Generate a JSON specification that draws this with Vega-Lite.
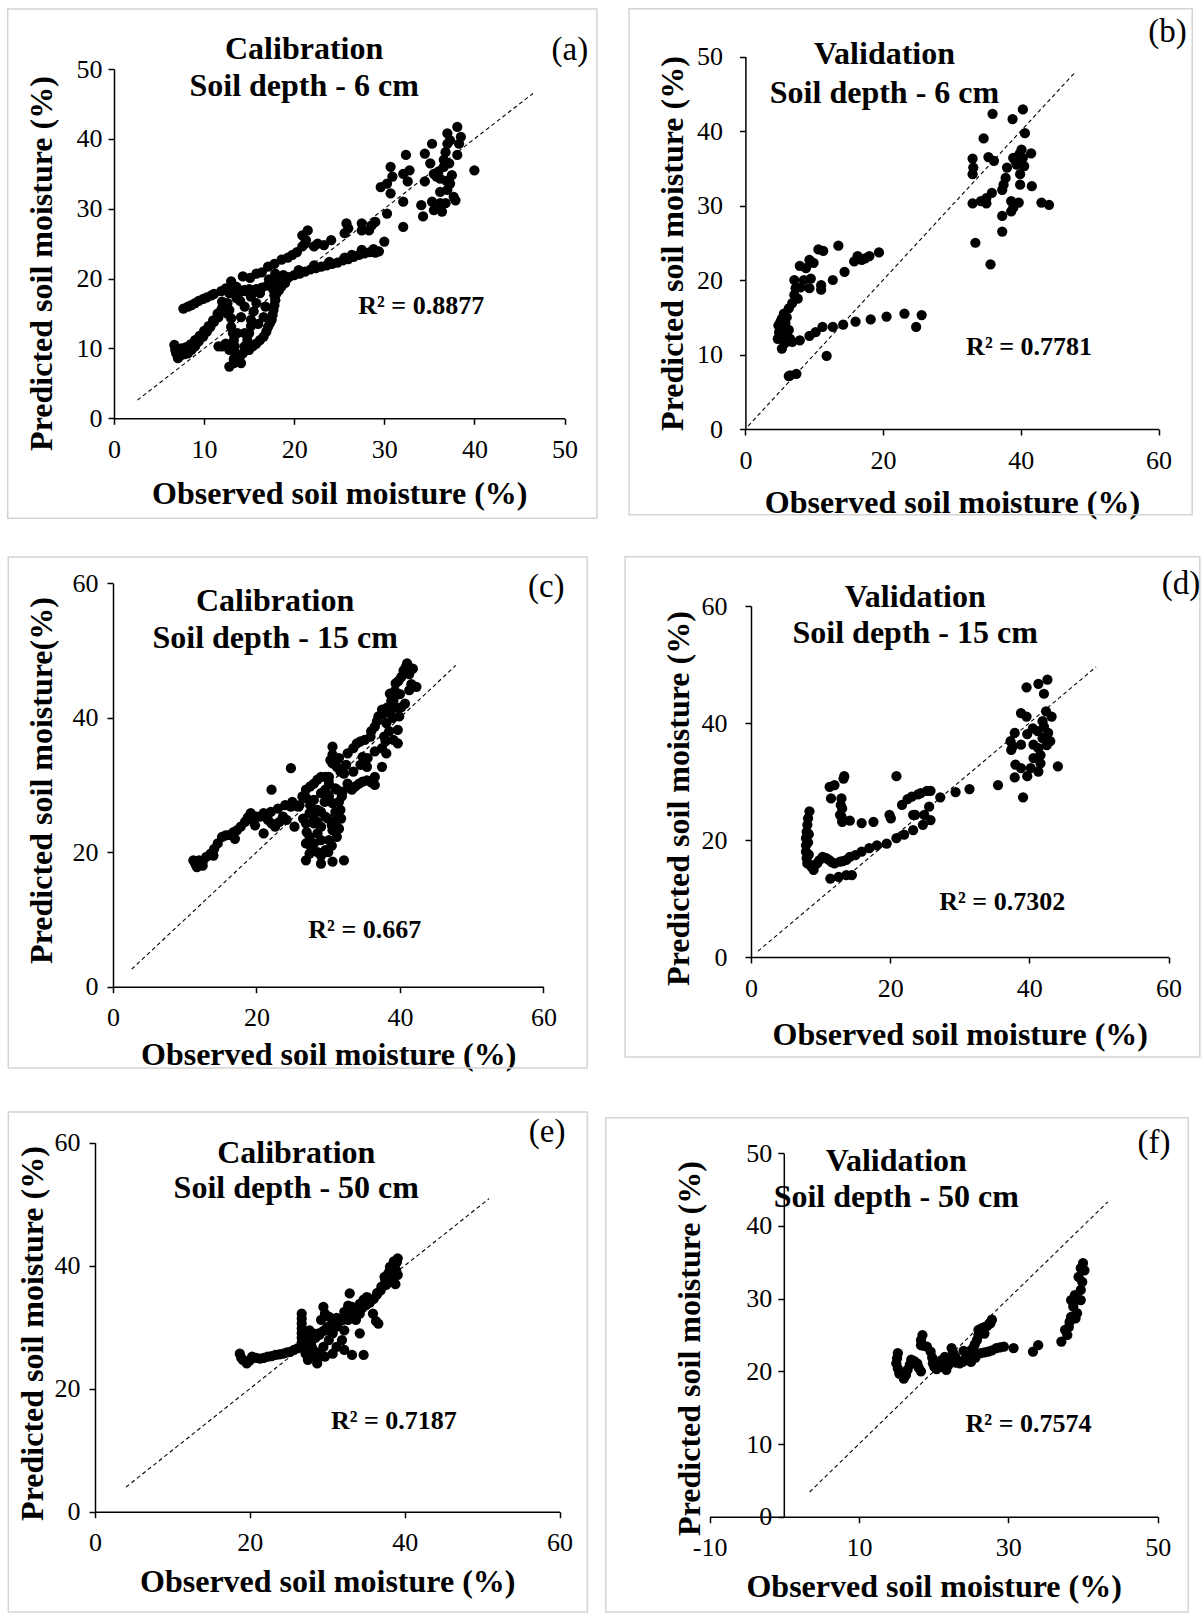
{
"$schema": "https://vega.github.io/schema/vega-lite/v6.json",
"width": 1203, "height": 1614, "autosize": {"type": "none"}, "padding": 0, "background": "white",
"config": {"view": {"stroke": null},
 "axis": {"labelFont": "Liberation Serif", "labelFontSize": 26, "labelColor": "black", "titleFont": "Liberation Serif", "titleFontSize": 32, "titleFontWeight": "bold", "titleColor": "black", "domainColor": "black", "domainWidth": 1.5, "tickColor": "black", "tickWidth": 1.5, "tickSize": 6, "grid": false, "labelPadding": 12, "labelFlush": false, "labelOverlap": false}},
"datasets": {
"a": [{"obs":7.7,"pred":15.7},{"obs":8.2,"pred":16.0},{"obs":8.6,"pred":16.2},{"obs":9.0,"pred":16.5},{"obs":9.4,"pred":16.8},{"obs":9.9,"pred":17.1},{"obs":10.3,"pred":17.3},{"obs":10.8,"pred":17.6},{"obs":11.1,"pred":17.8},{"obs":11.9,"pred":18.2},{"obs":12.4,"pred":18.6},{"obs":13.0,"pred":19.6},{"obs":13.6,"pred":18.8},{"obs":14.3,"pred":20.3},{"obs":15.1,"pred":20.1},{"obs":15.8,"pred":20.7},{"obs":16.4,"pred":20.9},{"obs":17.1,"pred":21.7},{"obs":17.8,"pred":22.1},{"obs":18.6,"pred":22.7},{"obs":19.3,"pred":23.0},{"obs":19.8,"pred":23.4},{"obs":20.3,"pred":23.8},{"obs":20.9,"pred":24.6},{"obs":21.3,"pred":25.5},{"obs":21.5,"pred":26.9},{"obs":20.9,"pred":26.2},{"obs":21.2,"pred":25.0},{"obs":22.2,"pred":24.6},{"obs":22.6,"pred":25.0},{"obs":23.3,"pred":24.8},{"obs":24.1,"pred":25.5},{"obs":25.6,"pred":26.5},{"obs":25.8,"pred":27.9},{"obs":26.0,"pred":27.2},{"obs":27.5,"pred":27.9},{"obs":27.5,"pred":26.9},{"obs":28.3,"pred":26.9},{"obs":28.6,"pred":27.6},{"obs":29.0,"pred":28.1},{"obs":30.0,"pred":25.3},{"obs":30.3,"pred":29.3},{"obs":29.6,"pred":33.1},{"obs":30.3,"pred":33.6},{"obs":30.7,"pred":36.0},{"obs":30.9,"pred":34.6},{"obs":30.7,"pred":32.2},{"obs":32.1,"pred":31.0},{"obs":32.1,"pred":35.0},{"obs":32.4,"pred":37.7},{"obs":32.6,"pred":33.9},{"obs":32.8,"pred":35.5},{"obs":32.1,"pred":27.4},{"obs":34.1,"pred":30.5},{"obs":34.3,"pred":28.9},{"obs":34.5,"pred":37.9},{"obs":34.5,"pred":33.9},{"obs":35.1,"pred":36.5},{"obs":35.3,"pred":39.3},{"obs":35.5,"pred":35.0},{"obs":35.3,"pred":31.0},{"obs":35.5,"pred":29.8},{"obs":36.2,"pred":30.8},{"obs":36.2,"pred":32.4},{"obs":36.4,"pred":29.6},{"obs":36.8,"pred":30.8},{"obs":36.2,"pred":34.3},{"obs":36.6,"pred":37.0},{"obs":36.8,"pred":38.1},{"obs":37.0,"pred":39.3},{"obs":37.0,"pred":40.8},{"obs":37.3,"pred":33.6},{"obs":37.5,"pred":34.8},{"obs":37.7,"pred":31.7},{"obs":37.9,"pred":31.2},{"obs":38.1,"pred":37.7},{"obs":38.1,"pred":41.7},{"obs":38.3,"pred":39.3},{"obs":38.5,"pred":40.3},{"obs":36.6,"pred":36.0},{"obs":40.0,"pred":35.5},{"obs":37.3,"pred":39.8},{"obs":36.0,"pred":35.3},{"obs":35.8,"pred":34.6},{"obs":36.9,"pred":34.0},{"obs":37.2,"pred":36.5},{"obs":37.0,"pred":32.7},
{"obs":12.8,"pred":17.9},{"obs":13.4,"pred":18.0},{"obs":14.0,"pred":18.1},{"obs":14.6,"pred":18.2},{"obs":15.2,"pred":18.3},{"obs":15.8,"pred":18.5},{"obs":16.4,"pred":18.7},{"obs":17.0,"pred":19.0},{"obs":17.6,"pred":19.3},{"obs":18.2,"pred":19.6},{"obs":18.8,"pred":19.9},{"obs":19.4,"pred":20.2},{"obs":20.0,"pred":20.5},{"obs":20.6,"pred":20.7},{"obs":21.2,"pred":21.0},{"obs":21.8,"pred":21.3},{"obs":22.4,"pred":21.5},{"obs":23.0,"pred":21.7},{"obs":23.6,"pred":21.9},{"obs":24.2,"pred":22.1},{"obs":24.8,"pred":22.3},{"obs":25.4,"pred":22.6},{"obs":26.0,"pred":22.8},{"obs":26.6,"pred":23.1},{"obs":27.2,"pred":23.4},{"obs":27.8,"pred":23.6},{"obs":28.4,"pred":23.8},{"obs":29.0,"pred":23.7},{"obs":29.4,"pred":23.9},{"obs":28.8,"pred":24.2},{"obs":27.5,"pred":24.1},{"obs":26.4,"pred":23.4},{"obs":25.6,"pred":23.0},{"obs":23.9,"pred":22.4},{"obs":22.2,"pred":21.9},{"obs":20.5,"pred":21.2},{"obs":18.8,"pred":20.5},{"obs":17.2,"pred":19.9},
{"obs":6.7,"pred":10.5},{"obs":6.8,"pred":9.8},{"obs":6.9,"pred":9.3},{"obs":7.1,"pred":8.6},{"obs":7.4,"pred":9.0},{"obs":7.8,"pred":9.2},{"obs":8.2,"pred":9.3},{"obs":8.6,"pred":9.8},{"obs":9.0,"pred":10.3},{"obs":9.4,"pred":11.0},{"obs":9.9,"pred":11.7},{"obs":10.3,"pred":12.4},{"obs":10.7,"pred":13.1},{"obs":11.1,"pred":13.8},{"obs":11.6,"pred":14.5},{"obs":11.8,"pred":15.3},{"obs":12.2,"pred":16.0},{"obs":12.6,"pred":16.5},{"obs":12.0,"pred":16.7},{"obs":7.5,"pred":10.0},{"obs":8.0,"pred":10.2},{"obs":8.5,"pred":10.6},{"obs":9.0,"pred":11.2},{"obs":9.5,"pred":11.8},{"obs":10.0,"pred":12.5},{"obs":10.5,"pred":13.2},{"obs":11.0,"pred":14.0},{"obs":11.5,"pred":15.0},{"obs":12.0,"pred":15.8},
{"obs":12.8,"pred":15.5},{"obs":13.0,"pred":14.3},{"obs":13.0,"pred":13.1},{"obs":13.2,"pred":12.2},{"obs":13.3,"pred":11.2},{"obs":13.4,"pred":10.3},{"obs":13.5,"pred":9.3},{"obs":13.3,"pred":8.5},{"obs":13.3,"pred":7.9},{"obs":12.8,"pred":7.4},{"obs":13.9,"pred":8.6},{"obs":14.1,"pred":7.9},{"obs":14.3,"pred":9.3},{"obs":14.5,"pred":10.3},{"obs":14.8,"pred":11.2},{"obs":15.0,"pred":12.2},{"obs":15.2,"pred":13.2},{"obs":15.2,"pred":14.1},{"obs":15.0,"pred":9.8},{"obs":15.4,"pred":10.3},{"obs":15.8,"pred":10.7},{"obs":16.2,"pred":11.2},{"obs":16.6,"pred":11.7},{"obs":16.9,"pred":12.4},{"obs":17.1,"pred":13.1},{"obs":17.3,"pred":13.6},{"obs":17.5,"pred":14.1},{"obs":17.6,"pred":14.8},{"obs":17.7,"pred":15.5},{"obs":17.8,"pred":16.2},{"obs":17.9,"pred":16.9},{"obs":17.8,"pred":17.6},{"obs":17.7,"pred":18.4},{"obs":17.9,"pred":19.2},{"obs":17.9,"pred":20.0},{"obs":17.9,"pred":20.7},{"obs":14.5,"pred":12.2},{"obs":14.1,"pred":14.5},{"obs":14.5,"pred":16.0},{"obs":15.2,"pred":17.4},{"obs":15.8,"pred":16.5},{"obs":16.2,"pred":17.9},{"obs":16.6,"pred":14.5},{"obs":14.5,"pred":18.4},{"obs":13.3,"pred":18.8},{"obs":12.0,"pred":10.3},{"obs":12.4,"pred":10.7},{"obs":11.6,"pred":10.3},{"obs":12.8,"pred":9.8},{"obs":13.7,"pred":12.2},{"obs":16.0,"pred":13.5},{"obs":15.5,"pred":15.3},{"obs":14.0,"pred":16.8},{"obs":12.6,"pred":15.0},{"obs":13.6,"pred":17.2},{"obs":16.8,"pred":16.0},{"obs":15.0,"pred":18.5},{"obs":18.3,"pred":18.3},{"obs":18.6,"pred":18.9},{"obs":19.0,"pred":19.4},{"obs":18.0,"pred":17.8}],
"b": [{"obs":40.3,"pred":42.9},{"obs":35.9,"pred":42.3},{"obs":38.8,"pred":41.6},{"obs":34.6,"pred":39.0},{"obs":40.6,"pred":39.7},{"obs":33.0,"pred":36.3},{"obs":35.3,"pred":36.5},{"obs":36.1,"pred":36.0},{"obs":33.1,"pred":35.1},{"obs":33.0,"pred":34.2},{"obs":40.1,"pred":37.5},{"obs":39.8,"pred":36.9},{"obs":38.9,"pred":36.4},{"obs":41.5,"pred":37.0},{"obs":40.3,"pred":36.4},{"obs":38.0,"pred":35.1},{"obs":39.4,"pred":35.5},{"obs":40.5,"pred":35.3},{"obs":39.9,"pred":34.2},{"obs":37.8,"pred":33.7},{"obs":37.5,"pred":32.8},{"obs":37.3,"pred":32.1},{"obs":39.9,"pred":32.8},{"obs":41.6,"pred":32.6},{"obs":35.8,"pred":31.7},{"obs":35.0,"pred":31.0},{"obs":34.2,"pred":30.6},{"obs":33.0,"pred":30.3},{"obs":35.0,"pred":30.3},{"obs":38.6,"pred":30.6},{"obs":39.7,"pred":30.4},{"obs":38.9,"pred":29.7},{"obs":38.6,"pred":29.2},{"obs":43.0,"pred":30.4},{"obs":44.1,"pred":30.1},{"obs":37.3,"pred":28.6},{"obs":37.3,"pred":26.5},{"obs":33.4,"pred":25.0},{"obs":35.6,"pred":22.1},{"obs":39.2,"pred":36.0},{"obs":40.0,"pred":35.9},
{"obs":10.6,"pred":24.1},{"obs":11.3,"pred":23.9},{"obs":13.5,"pred":24.6},{"obs":9.3,"pred":22.7},{"obs":9.9,"pred":22.3},{"obs":7.9,"pred":21.9},{"obs":8.8,"pred":21.6},{"obs":7.1,"pred":20.0},{"obs":8.5,"pred":20.0},{"obs":9.5,"pred":20.2},{"obs":9.3,"pred":18.9},{"obs":11.0,"pred":18.7},{"obs":11.0,"pred":19.3},{"obs":7.1,"pred":18.0},{"obs":7.3,"pred":18.9},{"obs":6.8,"pred":16.9},{"obs":6.3,"pred":16.2},{"obs":5.6,"pred":15.5},{"obs":5.3,"pred":14.8},{"obs":4.8,"pred":13.9},{"obs":4.9,"pred":13.0},{"obs":4.7,"pred":12.1},{"obs":5.3,"pred":10.8},{"obs":5.7,"pred":11.5},{"obs":5.1,"pred":14.4},{"obs":6.0,"pred":15.0},{"obs":6.3,"pred":13.3},{"obs":12.7,"pred":20.0},{"obs":14.4,"pred":21.1},{"obs":15.8,"pred":22.5},{"obs":16.9,"pred":22.7},{"obs":18.0,"pred":23.2},{"obs":19.4,"pred":23.7},{"obs":16.3,"pred":23.2},{"obs":17.4,"pred":22.9},{"obs":6.8,"pred":11.7},{"obs":7.9,"pred":11.9},{"obs":9.3,"pred":12.5},{"obs":10.2,"pred":13.0},{"obs":11.2,"pred":13.7},{"obs":12.7,"pred":13.7},{"obs":14.2,"pred":14.0},{"obs":16.0,"pred":14.4},{"obs":18.2,"pred":14.7},{"obs":20.5,"pred":15.1},{"obs":23.1,"pred":15.5},{"obs":25.6,"pred":15.3},{"obs":24.8,"pred":13.7},{"obs":11.8,"pred":9.8},{"obs":6.5,"pred":7.2},{"obs":7.4,"pred":7.4},{"obs":6.3,"pred":7.1},{"obs":5.7,"pred":12.6},{"obs":6.5,"pred":12.1},{"obs":5.0,"pred":12.6},{"obs":5.5,"pred":13.5},{"obs":5.8,"pred":14.2},{"obs":7.6,"pred":17.5},{"obs":8.0,"pred":19.0}],
"c": [{"obs":11.2,"pred":18.8},{"obs":11.5,"pred":18.2},{"obs":11.7,"pred":17.8},{"obs":12.0,"pred":18.8},{"obs":12.5,"pred":18.6},{"obs":13.0,"pred":19.3},{"obs":13.6,"pred":19.8},{"obs":14.1,"pred":20.5},{"obs":14.6,"pred":21.3},{"obs":15.2,"pred":22.3},{"obs":15.7,"pred":22.5},{"obs":16.2,"pred":22.6},{"obs":16.8,"pred":23.0},{"obs":17.3,"pred":23.3},{"obs":17.8,"pred":23.8},{"obs":18.4,"pred":24.5},{"obs":18.8,"pred":25.2},{"obs":19.2,"pred":25.8},{"obs":19.4,"pred":24.8},{"obs":20.0,"pred":25.3},{"obs":20.5,"pred":25.3},{"obs":21.0,"pred":22.8},{"obs":21.6,"pred":24.8},{"obs":22.1,"pred":24.3},{"obs":22.6,"pred":23.8},{"obs":23.2,"pred":24.5},{"obs":23.7,"pred":25.3},{"obs":24.2,"pred":24.8},{"obs":24.8,"pred":26.8},{"obs":25.3,"pred":23.8},{"obs":25.8,"pred":26.8},{"obs":26.4,"pred":28.3},{"obs":26.9,"pred":29.3},{"obs":27.5,"pred":29.8},{"obs":28.0,"pred":30.2},{"obs":28.5,"pred":30.8},{"obs":29.0,"pred":31.2},{"obs":29.6,"pred":31.2},{"obs":30.1,"pred":31.2},{"obs":30.6,"pred":33.2},{"obs":30.6,"pred":35.7},{"obs":30.6,"pred":34.5},{"obs":31.2,"pred":32.7},{"obs":31.7,"pred":32.0},{"obs":32.2,"pred":31.7},{"obs":32.7,"pred":30.2},{"obs":33.3,"pred":29.3},{"obs":33.8,"pred":29.8},{"obs":34.3,"pred":30.2},{"obs":34.8,"pred":30.5},{"obs":35.4,"pred":30.7},{"obs":36.0,"pred":30.4},{"obs":36.5,"pred":30.0},{"obs":24.8,"pred":32.5},{"obs":22.1,"pred":29.3},{"obs":21.0,"pred":25.8},{"obs":22.0,"pred":26.0},{"obs":23.0,"pred":26.5},{"obs":24.0,"pred":27.0},{"obs":25.0,"pred":27.5},{"obs":19.8,"pred":24.0},{"obs":17.0,"pred":22.0},{"obs":14.0,"pred":19.5},{"obs":12.5,"pred":18.0},
{"obs":32.7,"pred":34.7},{"obs":34.0,"pred":36.2},{"obs":35.1,"pred":36.7},{"obs":35.9,"pred":37.2},{"obs":36.5,"pred":38.7},{"obs":37.0,"pred":40.2},{"obs":37.5,"pred":41.2},{"obs":38.1,"pred":39.2},{"obs":38.6,"pred":40.7},{"obs":39.1,"pred":42.6},{"obs":38.6,"pred":43.6},{"obs":39.4,"pred":45.1},{"obs":40.2,"pred":46.1},{"obs":41.0,"pred":48.1},{"obs":41.8,"pred":47.3},{"obs":42.3,"pred":44.6},{"obs":41.3,"pred":44.1},{"obs":40.7,"pred":42.1},{"obs":39.9,"pred":40.2},{"obs":39.7,"pred":38.2},{"obs":39.1,"pred":36.7},{"obs":38.1,"pred":34.7},{"obs":37.5,"pred":32.7},{"obs":36.5,"pred":31.2},{"obs":35.4,"pred":32.7},{"obs":34.8,"pred":34.2},{"obs":39.7,"pred":36.2},{"obs":40.2,"pred":41.6},{"obs":37.8,"pred":37.2},{"obs":33.5,"pred":35.5},{"obs":34.5,"pred":36.5},{"obs":36.0,"pred":38.0},{"obs":36.8,"pred":39.5},{"obs":37.6,"pred":40.5},{"obs":38.2,"pred":41.5},{"obs":38.8,"pred":42.5},{"obs":39.3,"pred":44.0},{"obs":39.8,"pred":45.5},{"obs":40.5,"pred":47.0},{"obs":40.8,"pred":47.5},{"obs":41.3,"pred":46.5},{"obs":41.6,"pred":45.0},{"obs":40.0,"pred":43.5},{"obs":39.5,"pred":41.5},{"obs":39.0,"pred":40.0},{"obs":38.5,"pred":38.0},{"obs":38.0,"pred":36.5},{"obs":37.5,"pred":35.5},{"obs":36.5,"pred":35.0},{"obs":35.5,"pred":34.0},{"obs":34.5,"pred":33.0},{"obs":33.5,"pred":32.0},{"obs":32.5,"pred":33.0},{"obs":31.5,"pred":34.0},
{"obs":26.9,"pred":18.8},{"obs":27.4,"pred":19.8},{"obs":28.0,"pred":21.3},{"obs":28.5,"pred":22.8},{"obs":29.0,"pred":18.3},{"obs":30.6,"pred":18.6},{"obs":32.2,"pred":18.8},{"obs":29.6,"pred":20.3},{"obs":30.1,"pred":21.8},{"obs":30.6,"pred":23.3},{"obs":31.2,"pred":24.8},{"obs":31.7,"pred":26.3},{"obs":31.9,"pred":28.3},{"obs":31.2,"pred":29.3},{"obs":30.1,"pred":30.2},{"obs":28.0,"pred":27.8},{"obs":27.4,"pred":25.8},{"obs":26.9,"pred":24.3},{"obs":28.0,"pred":24.3},{"obs":28.5,"pred":26.3},{"obs":29.0,"pred":28.8},{"obs":29.6,"pred":25.3},{"obs":27.4,"pred":22.3},{"obs":26.9,"pred":21.3},{"obs":29.0,"pred":23.8},{"obs":30.6,"pred":27.3},{"obs":30.1,"pred":28.3},{"obs":31.2,"pred":22.3},{"obs":29.0,"pred":21.8},{"obs":30.3,"pred":33.7},{"obs":29.6,"pred":29.3},{"obs":27.0,"pred":23.0},{"obs":27.5,"pred":27.0},{"obs":28.0,"pred":25.0},{"obs":28.5,"pred":24.5},{"obs":29.0,"pred":26.0},{"obs":29.5,"pred":27.5},{"obs":30.0,"pred":25.0},{"obs":30.5,"pred":24.0},{"obs":31.0,"pred":26.0},{"obs":31.5,"pred":27.5},{"obs":27.5,"pred":21.0},{"obs":28.5,"pred":20.0},{"obs":29.0,"pred":19.5},{"obs":30.0,"pred":20.0},{"obs":30.5,"pred":21.0},{"obs":31.5,"pred":23.5},{"obs":31.8,"pred":25.0},{"obs":26.5,"pred":25.0},{"obs":26.0,"pred":27.0},{"obs":27.0,"pred":28.0},{"obs":30.0,"pred":28.5},{"obs":31.0,"pred":29.5},{"obs":32.0,"pred":29.0}],
"d": [{"obs":8.4,"pred":24.9},{"obs":8.2,"pred":23.7},{"obs":8.1,"pred":22.6},{"obs":8.0,"pred":21.4},{"obs":7.9,"pred":20.3},{"obs":7.9,"pred":19.1},{"obs":7.9,"pred":18.0},{"obs":8.0,"pred":16.9},{"obs":8.1,"pred":16.0},{"obs":8.7,"pred":15.4},{"obs":9.0,"pred":14.9},{"obs":9.5,"pred":16.0},{"obs":10.3,"pred":17.1},{"obs":11.2,"pred":16.6},{"obs":12.0,"pred":16.0},{"obs":12.8,"pred":16.3},{"obs":13.7,"pred":16.6},{"obs":14.2,"pred":17.1},{"obs":15.0,"pred":17.4},{"obs":15.9,"pred":18.0},{"obs":17.0,"pred":18.6},{"obs":18.1,"pred":19.1},{"obs":19.5,"pred":19.4},{"obs":20.9,"pred":20.3},{"obs":22.0,"pred":20.9},{"obs":23.3,"pred":21.7},{"obs":24.7,"pred":22.6},{"obs":25.8,"pred":23.4},{"obs":24.9,"pred":24.3},{"obs":23.3,"pred":24.3},{"obs":8.3,"pred":17.5},{"obs":8.2,"pred":19.6},{"obs":8.3,"pred":21.0},{"obs":8.5,"pred":15.8},{"obs":9.8,"pred":16.5},{"obs":10.8,"pred":16.9},{"obs":11.6,"pred":16.2},{"obs":13.2,"pred":16.4},{"obs":11.4,"pred":13.4},{"obs":12.6,"pred":13.7},{"obs":13.7,"pred":14.0},{"obs":14.5,"pred":14.0},
{"obs":11.3,"pred":29.1},{"obs":12.0,"pred":29.4},{"obs":13.4,"pred":30.9},{"obs":11.5,"pred":27.1},{"obs":13.0,"pred":27.1},{"obs":13.1,"pred":25.4},{"obs":12.8,"pred":24.3},{"obs":13.1,"pred":23.1},{"obs":14.2,"pred":23.3},{"obs":15.9,"pred":22.9},{"obs":17.6,"pred":23.1},{"obs":19.9,"pred":24.3},{"obs":20.1,"pred":23.7},{"obs":20.9,"pred":30.9},{"obs":21.7,"pred":26.0},{"obs":23.1,"pred":27.4},{"obs":23.6,"pred":24.3},{"obs":24.4,"pred":28.0},{"obs":25.3,"pred":28.4},{"obs":25.8,"pred":28.4},{"obs":25.6,"pred":25.7},{"obs":27.2,"pred":27.3},{"obs":29.4,"pred":28.2},{"obs":31.4,"pred":28.7},{"obs":35.5,"pred":29.4},{"obs":13.3,"pred":30.5},{"obs":12.9,"pred":26.0},{"obs":13.0,"pred":24.0},{"obs":22.5,"pred":27.0},{"obs":24.0,"pred":27.8},
{"obs":39.1,"pred":27.3},{"obs":37.9,"pred":30.7},{"obs":38.0,"pred":32.9},{"obs":38.8,"pred":32.3},{"obs":39.7,"pred":30.9},{"obs":40.2,"pred":32.3},{"obs":41.3,"pred":31.7},{"obs":41.6,"pred":33.1},{"obs":40.6,"pred":34.0},{"obs":37.4,"pred":35.4},{"obs":37.3,"pred":36.9},{"obs":37.9,"pred":38.3},{"obs":38.8,"pred":36.3},{"obs":39.7,"pred":38.1},{"obs":40.6,"pred":36.3},{"obs":41.3,"pred":35.7},{"obs":41.9,"pred":37.4},{"obs":42.7,"pred":38.3},{"obs":43.0,"pred":36.9},{"obs":42.1,"pred":39.4},{"obs":42.4,"pred":42.0},{"obs":41.9,"pred":40.3},{"obs":41.2,"pred":38.6},{"obs":38.8,"pred":41.7},{"obs":39.6,"pred":41.1},{"obs":43.2,"pred":41.1},{"obs":44.1,"pred":32.6},{"obs":39.6,"pred":46.1},{"obs":41.3,"pred":46.7},{"obs":42.1,"pred":45.0},{"obs":42.6,"pred":47.4},{"obs":40.5,"pred":39.1},{"obs":37.6,"pred":36.0},{"obs":41.6,"pred":34.5},{"obs":42.5,"pred":36.2}],
"e": [{"obs":18.7,"pred":25.7},{"obs":18.9,"pred":25.0},{"obs":19.1,"pred":24.7},{"obs":19.6,"pred":24.1},{"obs":20.0,"pred":24.6},{"obs":20.3,"pred":25.2},{"obs":20.8,"pred":25.0},{"obs":21.3,"pred":24.9},{"obs":21.8,"pred":25.0},{"obs":22.3,"pred":25.2},{"obs":22.8,"pred":25.3},{"obs":23.3,"pred":25.5},{"obs":23.8,"pred":25.6},{"obs":24.3,"pred":25.7},{"obs":24.8,"pred":25.9},{"obs":25.2,"pred":26.0},{"obs":25.7,"pred":26.3},{"obs":26.2,"pred":26.6},{"obs":26.7,"pred":26.8},{"obs":26.7,"pred":27.5},{"obs":26.7,"pred":28.3},{"obs":26.7,"pred":29.0},{"obs":26.7,"pred":29.8},{"obs":26.7,"pred":30.6},{"obs":26.7,"pred":31.4},{"obs":26.7,"pred":32.2},
{"obs":27.0,"pred":26.5},{"obs":27.5,"pred":27.2},{"obs":28.0,"pred":27.8},{"obs":28.5,"pred":28.3},{"obs":29.0,"pred":28.8},{"obs":29.5,"pred":29.4},{"obs":30.0,"pred":30.0},{"obs":30.5,"pred":30.3},{"obs":31.0,"pred":30.6},{"obs":31.5,"pred":30.9},{"obs":32.0,"pred":31.2},{"obs":32.5,"pred":31.6},{"obs":33.0,"pred":32.0},{"obs":33.5,"pred":32.3},{"obs":34.0,"pred":32.6},{"obs":34.5,"pred":33.1},{"obs":35.0,"pred":33.6},{"obs":35.5,"pred":34.0},{"obs":36.0,"pred":34.6},{"obs":36.5,"pred":35.6},{"obs":37.0,"pred":36.6},{"obs":37.5,"pred":37.6},{"obs":38.0,"pred":38.6},{"obs":38.5,"pred":39.6},{"obs":39.0,"pred":40.6},{"obs":39.1,"pred":41.2},
{"obs":27.2,"pred":28.5},{"obs":27.7,"pred":29.5},{"obs":28.2,"pred":29.0},{"obs":29.2,"pred":31.2},{"obs":29.5,"pred":33.3},{"obs":29.7,"pred":32.2},{"obs":30.2,"pred":31.7},{"obs":31.2,"pred":31.5},{"obs":32.2,"pred":32.5},{"obs":32.7,"pred":33.5},{"obs":32.9,"pred":35.5},{"obs":33.2,"pred":33.3},{"obs":34.2,"pred":33.8},{"obs":34.7,"pred":34.5},{"obs":35.1,"pred":34.9},{"obs":36.4,"pred":35.3},{"obs":36.9,"pred":36.0},{"obs":37.4,"pred":38.2},{"obs":37.9,"pred":38.8},{"obs":38.1,"pred":39.8},{"obs":38.6,"pred":40.7},{"obs":38.9,"pred":39.3},
{"obs":27.2,"pred":25.7},{"obs":27.5,"pred":24.7},{"obs":28.0,"pred":26.8},{"obs":28.5,"pred":26.0},{"obs":28.7,"pred":24.7},{"obs":28.7,"pred":24.1},{"obs":28.9,"pred":25.7},{"obs":29.5,"pred":26.8},{"obs":29.7,"pred":25.2},{"obs":30.2,"pred":27.9},{"obs":30.7,"pred":25.7},{"obs":31.2,"pred":26.8},{"obs":32.2,"pred":26.3},{"obs":33.2,"pred":25.5},{"obs":34.7,"pred":25.5},{"obs":30.7,"pred":29.0},{"obs":31.9,"pred":27.9},{"obs":32.2,"pred":29.5},{"obs":33.7,"pred":31.2},{"obs":34.2,"pred":29.0},{"obs":34.2,"pred":32.2},{"obs":35.9,"pred":32.2},{"obs":36.6,"pred":30.6},{"obs":36.3,"pred":31.0},{"obs":37.6,"pred":36.9},{"obs":38.4,"pred":37.4},{"obs":39.1,"pred":38.5},{"obs":38.8,"pred":37.0},{"obs":28.2,"pred":25.5},{"obs":28.9,"pred":29.0},{"obs":30.0,"pred":29.5},{"obs":31.2,"pred":30.1},{"obs":32.7,"pred":31.2}],
"f": [{"obs":15.2,"pred":22.5},{"obs":15.0,"pred":21.1},{"obs":15.1,"pred":21.8},{"obs":15.4,"pred":19.7},{"obs":15.2,"pred":20.4},{"obs":16.0,"pred":19.0},{"obs":16.3,"pred":19.5},{"obs":16.5,"pred":20.2},{"obs":16.8,"pred":20.9},{"obs":17.0,"pred":21.6},{"obs":17.4,"pred":21.4},{"obs":17.8,"pred":21.1},{"obs":18.0,"pred":20.5},{"obs":18.3,"pred":20.0},{"obs":18.5,"pred":25.0},{"obs":18.3,"pred":24.3},{"obs":18.3,"pred":23.6},{"obs":18.7,"pred":23.5},{"obs":19.1,"pred":23.4},{"obs":19.6,"pred":22.7},{"obs":19.8,"pred":21.9},{"obs":19.9,"pred":21.1},{"obs":20.1,"pred":20.6},{"obs":20.6,"pred":21.1},{"obs":21.1,"pred":20.6},{"obs":21.7,"pred":20.2},{"obs":22.0,"pred":20.9},{"obs":22.2,"pred":21.6},{"obs":22.4,"pred":23.2},{"obs":22.6,"pred":22.6},{"obs":22.9,"pred":22.0},{"obs":23.2,"pred":21.5},{"obs":23.5,"pred":21.1},{"obs":23.9,"pred":21.3},{"obs":24.2,"pred":21.6},{"obs":24.5,"pred":22.0},{"obs":24.8,"pred":22.5},{"obs":25.0,"pred":22.9},{"obs":25.3,"pred":23.2},{"obs":25.5,"pred":23.7},{"obs":25.8,"pred":24.3},{"obs":26.0,"pred":25.0},{"obs":26.0,"pred":25.7},{"obs":26.4,"pred":25.9},{"obs":26.8,"pred":26.1},{"obs":27.2,"pred":26.3},{"obs":27.6,"pred":26.6},{"obs":27.8,"pred":27.1},{"obs":26.8,"pred":25.2},{"obs":25.0,"pred":21.3},{"obs":25.6,"pred":21.9},{"obs":26.3,"pred":22.5},{"obs":26.8,"pred":22.6},{"obs":27.3,"pred":22.7},{"obs":27.8,"pred":22.9},{"obs":28.4,"pred":23.2},{"obs":28.9,"pred":23.3},{"obs":29.4,"pred":23.4},{"obs":30.7,"pred":23.2},{"obs":33.3,"pred":22.7},{"obs":34.0,"pred":23.6},{"obs":37.1,"pred":24.1},{"obs":37.6,"pred":25.7},{"obs":38.1,"pred":26.1},{"obs":38.4,"pred":27.5},{"obs":38.7,"pred":28.9},{"obs":38.4,"pred":29.8},{"obs":38.9,"pred":30.5},{"obs":39.2,"pred":28.0},{"obs":39.7,"pred":29.8},{"obs":39.7,"pred":31.2},{"obs":39.4,"pred":33.0},{"obs":39.7,"pred":34.2},{"obs":40.0,"pred":34.9},{"obs":40.2,"pred":33.9},{"obs":38.7,"pred":29.4},{"obs":37.9,"pred":25.0},{"obs":38.2,"pred":26.8},{"obs":39.0,"pred":27.3},{"obs":39.9,"pred":32.3},{"obs":21.0,"pred":21.5},{"obs":20.4,"pred":20.3},{"obs":23.0,"pred":21.2},{"obs":24.0,"pred":22.8},{"obs":21.5,"pred":22.0}]
},
"layer": [
{"layer": [
 {"data": {"name": "a"}, "mark": {"type": "circle", "size": 105, "color": "black", "opacity": 1},
  "encoding": {"x": {"field": "obs", "type": "quantitative", "scale": {"domain": [0, 50], "range": [114, 564.5], "nice": false, "zero": false}, "axis": {"orient": "bottom", "offset": -1195.7, "values": [0, 10, 20, 30, 40, 50], "labelFont": "Liberation Serif", "title": "Observed soil moisture (%)", "titleY": 74.7, "titleBaseline": "middle"}},
   "y": {"field": "pred", "type": "quantitative", "scale": {"domain": [0, 50], "range": [418.3, 69], "nice": false, "zero": false}, "axis": {"orient": "left", "offset": -114, "values": [0, 10, 20, 30, 40, 50], "labelFont": "Liberation Serif", "labelPadding": 6, "title": "Predicted soil moisture (%)", "titleX": -73, "titleY": 263, "titleBaseline": "middle"}}}},
 {"data": {"values": [{}]}, "mark": {"type": "rect", "fill": "white", "fillOpacity": 0, "stroke": "#d4d4d4", "strokeWidth": 1.5},
  "encoding": {"x": {"datum": -11.8, "type": "quantitative"}, "x2": {"datum": 53.6}, "y": {"datum": -14.3, "type": "quantitative"}, "y2": {"datum": 58.6}}},
 {"data": {"values": [{}]}, "mark": {"type": "rule", "color": "black", "strokeWidth": 1.1, "strokeDash": [4, 3]},
  "encoding": {"x": {"datum": 2.6, "type": "quantitative"}, "x2": {"datum": 46.5}, "y": {"datum": 2.6, "type": "quantitative"}, "y2": {"datum": 46.5}}},
 {"data": {"values": [{}]}, "mark": {"type": "text", "text": "R² = 0.8877", "font": "Liberation Serif", "fontSize": 26, "fontWeight": "bold", "color": "black", "align": "center", "baseline": "middle"},
  "encoding": {"x": {"datum": 34.1, "type": "quantitative"}, "y": {"datum": 16.1, "type": "quantitative"}}},
 {"data": {"values": [{}]}, "mark": {"type": "text", "text": "Calibration", "font": "Liberation Serif", "fontSize": 32, "fontWeight": "bold", "color": "black", "align": "center", "baseline": "middle"},
  "encoding": {"x": {"datum": 21.1, "type": "quantitative"}, "y": {"datum": 52.8, "type": "quantitative"}}},
 {"data": {"values": [{}]}, "mark": {"type": "text", "text": "Soil depth - 6 cm", "font": "Liberation Serif", "fontSize": 32, "fontWeight": "bold", "color": "black", "align": "center", "baseline": "middle"},
  "encoding": {"x": {"datum": 21.1, "type": "quantitative"}, "y": {"datum": 47.5, "type": "quantitative"}}},
 {"data": {"values": [{}]}, "mark": {"type": "text", "text": "(a)", "font": "Liberation Serif", "fontSize": 33, "color": "black", "align": "center", "baseline": "middle"},
  "encoding": {"x": {"datum": 50.6, "type": "quantitative"}, "y": {"datum": 52.7, "type": "quantitative"}}}
]},
{"layer": [
 {"data": {"name": "b"}, "mark": {"type": "circle", "size": 105, "color": "black", "opacity": 1},
  "encoding": {"x": {"field": "obs", "type": "quantitative", "scale": {"domain": [0, 60], "range": [745.4, 1158.5], "nice": false, "zero": false}, "axis": {"orient": "bottom", "offset": -1185, "values": [0, 20, 40, 60], "labelFont": "Liberation Serif", "title": "Observed soil moisture (%)", "titleY": 73, "titleBaseline": "middle"}},
   "y": {"field": "pred", "type": "quantitative", "scale": {"domain": [0, 50], "range": [429, 56.5], "nice": false, "zero": false}, "axis": {"orient": "left", "offset": -745.4, "values": [0, 10, 20, 30, 40, 50], "labelFont": "Liberation Serif", "labelPadding": 17, "title": "Predicted soil moisture (%)", "titleX": -73, "titleY": 243, "titleBaseline": "middle"}}}},
 {"data": {"values": [{}]}, "mark": {"type": "rect", "fill": "white", "fillOpacity": 0, "stroke": "#d4d4d4", "strokeWidth": 1.5},
  "encoding": {"x": {"datum": -16.9, "type": "quantitative"}, "x2": {"datum": 64.9}, "y": {"datum": -11.5, "type": "quantitative"}, "y2": {"datum": 56.4}}},
 {"data": {"values": [{}]}, "mark": {"type": "rule", "color": "black", "strokeWidth": 1.1, "strokeDash": [4, 3]},
  "encoding": {"x": {"datum": 0.4, "type": "quantitative"}, "x2": {"datum": 48}, "y": {"datum": 0.4, "type": "quantitative"}, "y2": {"datum": 48}}},
 {"data": {"values": [{}]}, "mark": {"type": "text", "text": "R² = 0.7781", "font": "Liberation Serif", "fontSize": 26, "fontWeight": "bold", "color": "black", "align": "center", "baseline": "middle"},
  "encoding": {"x": {"datum": 41.2, "type": "quantitative"}, "y": {"datum": 11.0, "type": "quantitative"}}},
 {"data": {"values": [{}]}, "mark": {"type": "text", "text": "Validation", "font": "Liberation Serif", "fontSize": 32, "fontWeight": "bold", "color": "black", "align": "center", "baseline": "middle"},
  "encoding": {"x": {"datum": 20.2, "type": "quantitative"}, "y": {"datum": 50.3, "type": "quantitative"}}},
 {"data": {"values": [{}]}, "mark": {"type": "text", "text": "Soil depth - 6 cm", "font": "Liberation Serif", "fontSize": 32, "fontWeight": "bold", "color": "black", "align": "center", "baseline": "middle"},
  "encoding": {"x": {"datum": 20.2, "type": "quantitative"}, "y": {"datum": 45.1, "type": "quantitative"}}},
 {"data": {"values": [{}]}, "mark": {"type": "text", "text": "(b)", "font": "Liberation Serif", "fontSize": 33, "color": "black", "align": "center", "baseline": "middle"},
  "encoding": {"x": {"datum": 61.3, "type": "quantitative"}, "y": {"datum": 53.3, "type": "quantitative"}}}
]},
{"layer": [
 {"data": {"name": "c"}, "mark": {"type": "circle", "size": 105, "color": "black", "opacity": 1},
  "encoding": {"x": {"field": "obs", "type": "quantitative", "scale": {"domain": [0, 60], "range": [113, 543.4], "nice": false, "zero": false}, "axis": {"orient": "bottom", "offset": -627.3, "values": [0, 20, 40, 60], "labelFont": "Liberation Serif", "title": "Observed soil moisture (%)", "titleY": 68, "titleBaseline": "middle"}},
   "y": {"field": "pred", "type": "quantitative", "scale": {"domain": [0, 60], "range": [986.7, 583.3], "nice": false, "zero": false}, "axis": {"orient": "left", "offset": -113, "values": [0, 20, 40, 60], "labelFont": "Liberation Serif", "labelPadding": 9, "title": "Predicted soil moisture(%)", "titleX": -72, "titleY": 780, "titleBaseline": "middle"}}}},
 {"data": {"values": [{}]}, "mark": {"type": "rect", "fill": "white", "fillOpacity": 0, "stroke": "#d4d4d4", "strokeWidth": 1.5},
  "encoding": {"x": {"datum": -14.6, "type": "quantitative"}, "x2": {"datum": 66.1}, "y": {"datum": -12.1, "type": "quantitative"}, "y2": {"datum": 63.9}}},
 {"data": {"values": [{}]}, "mark": {"type": "rule", "color": "black", "strokeWidth": 1.1, "strokeDash": [4, 3]},
  "encoding": {"x": {"datum": 2.6, "type": "quantitative"}, "x2": {"datum": 47.8}, "y": {"datum": 2.6, "type": "quantitative"}, "y2": {"datum": 47.8}}},
 {"data": {"values": [{}]}, "mark": {"type": "text", "text": "R² = 0.667", "font": "Liberation Serif", "fontSize": 26, "fontWeight": "bold", "color": "black", "align": "center", "baseline": "middle"},
  "encoding": {"x": {"datum": 35.1, "type": "quantitative"}, "y": {"datum": 8.4, "type": "quantitative"}}},
 {"data": {"values": [{}]}, "mark": {"type": "text", "text": "Calibration", "font": "Liberation Serif", "fontSize": 32, "fontWeight": "bold", "color": "black", "align": "center", "baseline": "middle"},
  "encoding": {"x": {"datum": 22.6, "type": "quantitative"}, "y": {"datum": 57.3, "type": "quantitative"}}},
 {"data": {"values": [{}]}, "mark": {"type": "text", "text": "Soil depth - 15 cm", "font": "Liberation Serif", "fontSize": 32, "fontWeight": "bold", "color": "black", "align": "center", "baseline": "middle"},
  "encoding": {"x": {"datum": 22.6, "type": "quantitative"}, "y": {"datum": 51.8, "type": "quantitative"}}},
 {"data": {"values": [{}]}, "mark": {"type": "text", "text": "(c)", "font": "Liberation Serif", "fontSize": 33, "color": "black", "align": "center", "baseline": "middle"},
  "encoding": {"x": {"datum": 60.4, "type": "quantitative"}, "y": {"datum": 59.5, "type": "quantitative"}}}
]},
{"layer": [
 {"data": {"name": "d"}, "mark": {"type": "circle", "size": 105, "color": "black", "opacity": 1},
  "encoding": {"x": {"field": "obs", "type": "quantitative", "scale": {"domain": [0, 60], "range": [751, 1168.5], "nice": false, "zero": false}, "axis": {"orient": "bottom", "offset": -657, "values": [0, 20, 40, 60], "labelFont": "Liberation Serif", "title": "Observed soil moisture (%)", "titleY": 77, "titleBaseline": "middle"}},
   "y": {"field": "pred", "type": "quantitative", "scale": {"domain": [0, 60], "range": [957, 606], "nice": false, "zero": false}, "axis": {"orient": "left", "offset": -751, "values": [0, 20, 40, 60], "labelFont": "Liberation Serif", "labelPadding": 18, "title": "Predicted soil moisture (%)", "titleX": -73, "titleY": 798, "titleBaseline": "middle"}}}},
 {"data": {"values": [{}]}, "mark": {"type": "rect", "fill": "white", "fillOpacity": 0, "stroke": "#d4d4d4", "strokeWidth": 1.5},
  "encoding": {"x": {"datum": -18.1, "type": "quantitative"}, "x2": {"datum": 64.5}, "y": {"datum": -17.1, "type": "quantitative"}, "y2": {"datum": 68.4}}},
 {"data": {"values": [{}]}, "mark": {"type": "rule", "color": "black", "strokeWidth": 1.1, "strokeDash": [4, 3]},
  "encoding": {"x": {"datum": 1.0, "type": "quantitative"}, "x2": {"datum": 49.6}, "y": {"datum": 1.0, "type": "quantitative"}, "y2": {"datum": 49.6}}},
 {"data": {"values": [{}]}, "mark": {"type": "text", "text": "R² = 0.7302", "font": "Liberation Serif", "fontSize": 26, "fontWeight": "bold", "color": "black", "align": "center", "baseline": "middle"},
  "encoding": {"x": {"datum": 36.1, "type": "quantitative"}, "y": {"datum": 9.4, "type": "quantitative"}}},
 {"data": {"values": [{}]}, "mark": {"type": "text", "text": "Validation", "font": "Liberation Serif", "fontSize": 32, "fontWeight": "bold", "color": "black", "align": "center", "baseline": "middle"},
  "encoding": {"x": {"datum": 23.6, "type": "quantitative"}, "y": {"datum": 61.6, "type": "quantitative"}}},
 {"data": {"values": [{}]}, "mark": {"type": "text", "text": "Soil depth - 15 cm", "font": "Liberation Serif", "fontSize": 32, "fontWeight": "bold", "color": "black", "align": "center", "baseline": "middle"},
  "encoding": {"x": {"datum": 23.6, "type": "quantitative"}, "y": {"datum": 55.3, "type": "quantitative"}}},
 {"data": {"values": [{}]}, "mark": {"type": "text", "text": "(d)", "font": "Liberation Serif", "fontSize": 33, "color": "black", "align": "center", "baseline": "middle"},
  "encoding": {"x": {"datum": 61.8, "type": "quantitative"}, "y": {"datum": 63.7, "type": "quantitative"}}}
]},
{"layer": [
 {"data": {"name": "e"}, "mark": {"type": "circle", "size": 105, "color": "black", "opacity": 1},
  "encoding": {"x": {"field": "obs", "type": "quantitative", "scale": {"domain": [0, 60], "range": [95, 559.5], "nice": false, "zero": false}, "axis": {"orient": "bottom", "offset": -102.3, "values": [0, 20, 40, 60], "labelFont": "Liberation Serif", "title": "Observed soil moisture (%)", "titleY": 69.6, "titleBaseline": "middle"}},
   "y": {"field": "pred", "type": "quantitative", "scale": {"domain": [0, 60], "range": [1511.7, 1142.7], "nice": false, "zero": false}, "axis": {"orient": "left", "offset": -95, "values": [0, 20, 40, 60], "labelFont": "Liberation Serif", "labelPadding": 9, "title": "Predicted soil moisture (%)", "titleX": -63, "titleY": 1333, "titleBaseline": "middle"}}}},
 {"data": {"values": [{}]}, "mark": {"type": "rect", "fill": "white", "fillOpacity": 0, "stroke": "#d4d4d4", "strokeWidth": 1.5},
  "encoding": {"x": {"datum": -11.2, "type": "quantitative"}, "x2": {"datum": 63.6}, "y": {"datum": -16.3, "type": "quantitative"}, "y2": {"datum": 65.0}}},
 {"data": {"values": [{}]}, "mark": {"type": "rule", "color": "black", "strokeWidth": 1.1, "strokeDash": [4, 3]},
  "encoding": {"x": {"datum": 4.0, "type": "quantitative"}, "x2": {"datum": 50.9}, "y": {"datum": 4.0, "type": "quantitative"}, "y2": {"datum": 50.9}}},
 {"data": {"values": [{}]}, "mark": {"type": "text", "text": "R² = 0.7187", "font": "Liberation Serif", "fontSize": 26, "fontWeight": "bold", "color": "black", "align": "center", "baseline": "middle"},
  "encoding": {"x": {"datum": 38.6, "type": "quantitative"}, "y": {"datum": 14.8, "type": "quantitative"}}},
 {"data": {"values": [{}]}, "mark": {"type": "text", "text": "Calibration", "font": "Liberation Serif", "fontSize": 32, "fontWeight": "bold", "color": "black", "align": "center", "baseline": "middle"},
  "encoding": {"x": {"datum": 26.0, "type": "quantitative"}, "y": {"datum": 58.3, "type": "quantitative"}}},
 {"data": {"values": [{}]}, "mark": {"type": "text", "text": "Soil depth - 50 cm", "font": "Liberation Serif", "fontSize": 32, "fontWeight": "bold", "color": "black", "align": "center", "baseline": "middle"},
  "encoding": {"x": {"datum": 26.0, "type": "quantitative"}, "y": {"datum": 52.6, "type": "quantitative"}}},
 {"data": {"values": [{}]}, "mark": {"type": "text", "text": "(e)", "font": "Liberation Serif", "fontSize": 33, "color": "black", "align": "center", "baseline": "middle"},
  "encoding": {"x": {"datum": 58.4, "type": "quantitative"}, "y": {"datum": 61.8, "type": "quantitative"}}}
]},
{"layer": [
 {"data": {"name": "f"}, "mark": {"type": "circle", "size": 105, "color": "black", "opacity": 1},
  "encoding": {"x": {"field": "obs", "type": "quantitative", "scale": {"domain": [-10, 50], "range": [709.6, 1157.7], "nice": false, "zero": false}, "axis": {"orient": "bottom", "offset": -97.3, "values": [-10, 10, 30, 50], "labelExpr": "datum.value + ''", "labelFont": "Liberation Serif", "title": "Observed soil moisture (%)", "titleY": 69.5, "titleBaseline": "middle"}},
   "y": {"field": "pred", "type": "quantitative", "scale": {"domain": [0, 50], "range": [1516.7, 1153.3], "nice": false, "zero": false}, "axis": {"orient": "left", "offset": -783.8, "values": [0, 10, 20, 30, 40, 50], "labelFont": "Liberation Serif", "labelPadding": 6, "title": "Predicted soil moisture (%)", "titleX": -94, "titleY": 1348, "titleBaseline": "middle"}}}},
 {"data": {"values": [{}]}, "mark": {"type": "rect", "fill": "white", "fillOpacity": 0, "stroke": "#d4d4d4", "strokeWidth": 1.5},
  "encoding": {"x": {"datum": -23.9, "type": "quantitative"}, "x2": {"datum": 54.1}, "y": {"datum": -13.1, "type": "quantitative"}, "y2": {"datum": 54.9}}},
 {"data": {"values": [{}]}, "mark": {"type": "rule", "color": "black", "strokeWidth": 1.1, "strokeDash": [4, 3]},
  "encoding": {"x": {"datum": 3.4, "type": "quantitative"}, "x2": {"datum": 43.3}, "y": {"datum": 3.4, "type": "quantitative"}, "y2": {"datum": 43.3}}},
 {"data": {"values": [{}]}, "mark": {"type": "text", "text": "R² = 0.7574", "font": "Liberation Serif", "fontSize": 26, "fontWeight": "bold", "color": "black", "align": "center", "baseline": "middle"},
  "encoding": {"x": {"datum": 32.7, "type": "quantitative"}, "y": {"datum": 12.8, "type": "quantitative"}}},
 {"data": {"values": [{}]}, "mark": {"type": "text", "text": "Validation", "font": "Liberation Serif", "fontSize": 32, "fontWeight": "bold", "color": "black", "align": "center", "baseline": "middle"},
  "encoding": {"x": {"datum": 15.0, "type": "quantitative"}, "y": {"datum": 48.9, "type": "quantitative"}}},
 {"data": {"values": [{}]}, "mark": {"type": "text", "text": "Soil depth - 50 cm", "font": "Liberation Serif", "fontSize": 32, "fontWeight": "bold", "color": "black", "align": "center", "baseline": "middle"},
  "encoding": {"x": {"datum": 15.0, "type": "quantitative"}, "y": {"datum": 44.0, "type": "quantitative"}}},
 {"data": {"values": [{}]}, "mark": {"type": "text", "text": "(f)", "font": "Liberation Serif", "fontSize": 33, "color": "black", "align": "center", "baseline": "middle"},
  "encoding": {"x": {"datum": 49.5, "type": "quantitative"}, "y": {"datum": 51.4, "type": "quantitative"}}}
]}
],
"resolve": {"scale": {"x": "independent", "y": "independent"}, "axis": {"x": "independent", "y": "independent"}}
}
